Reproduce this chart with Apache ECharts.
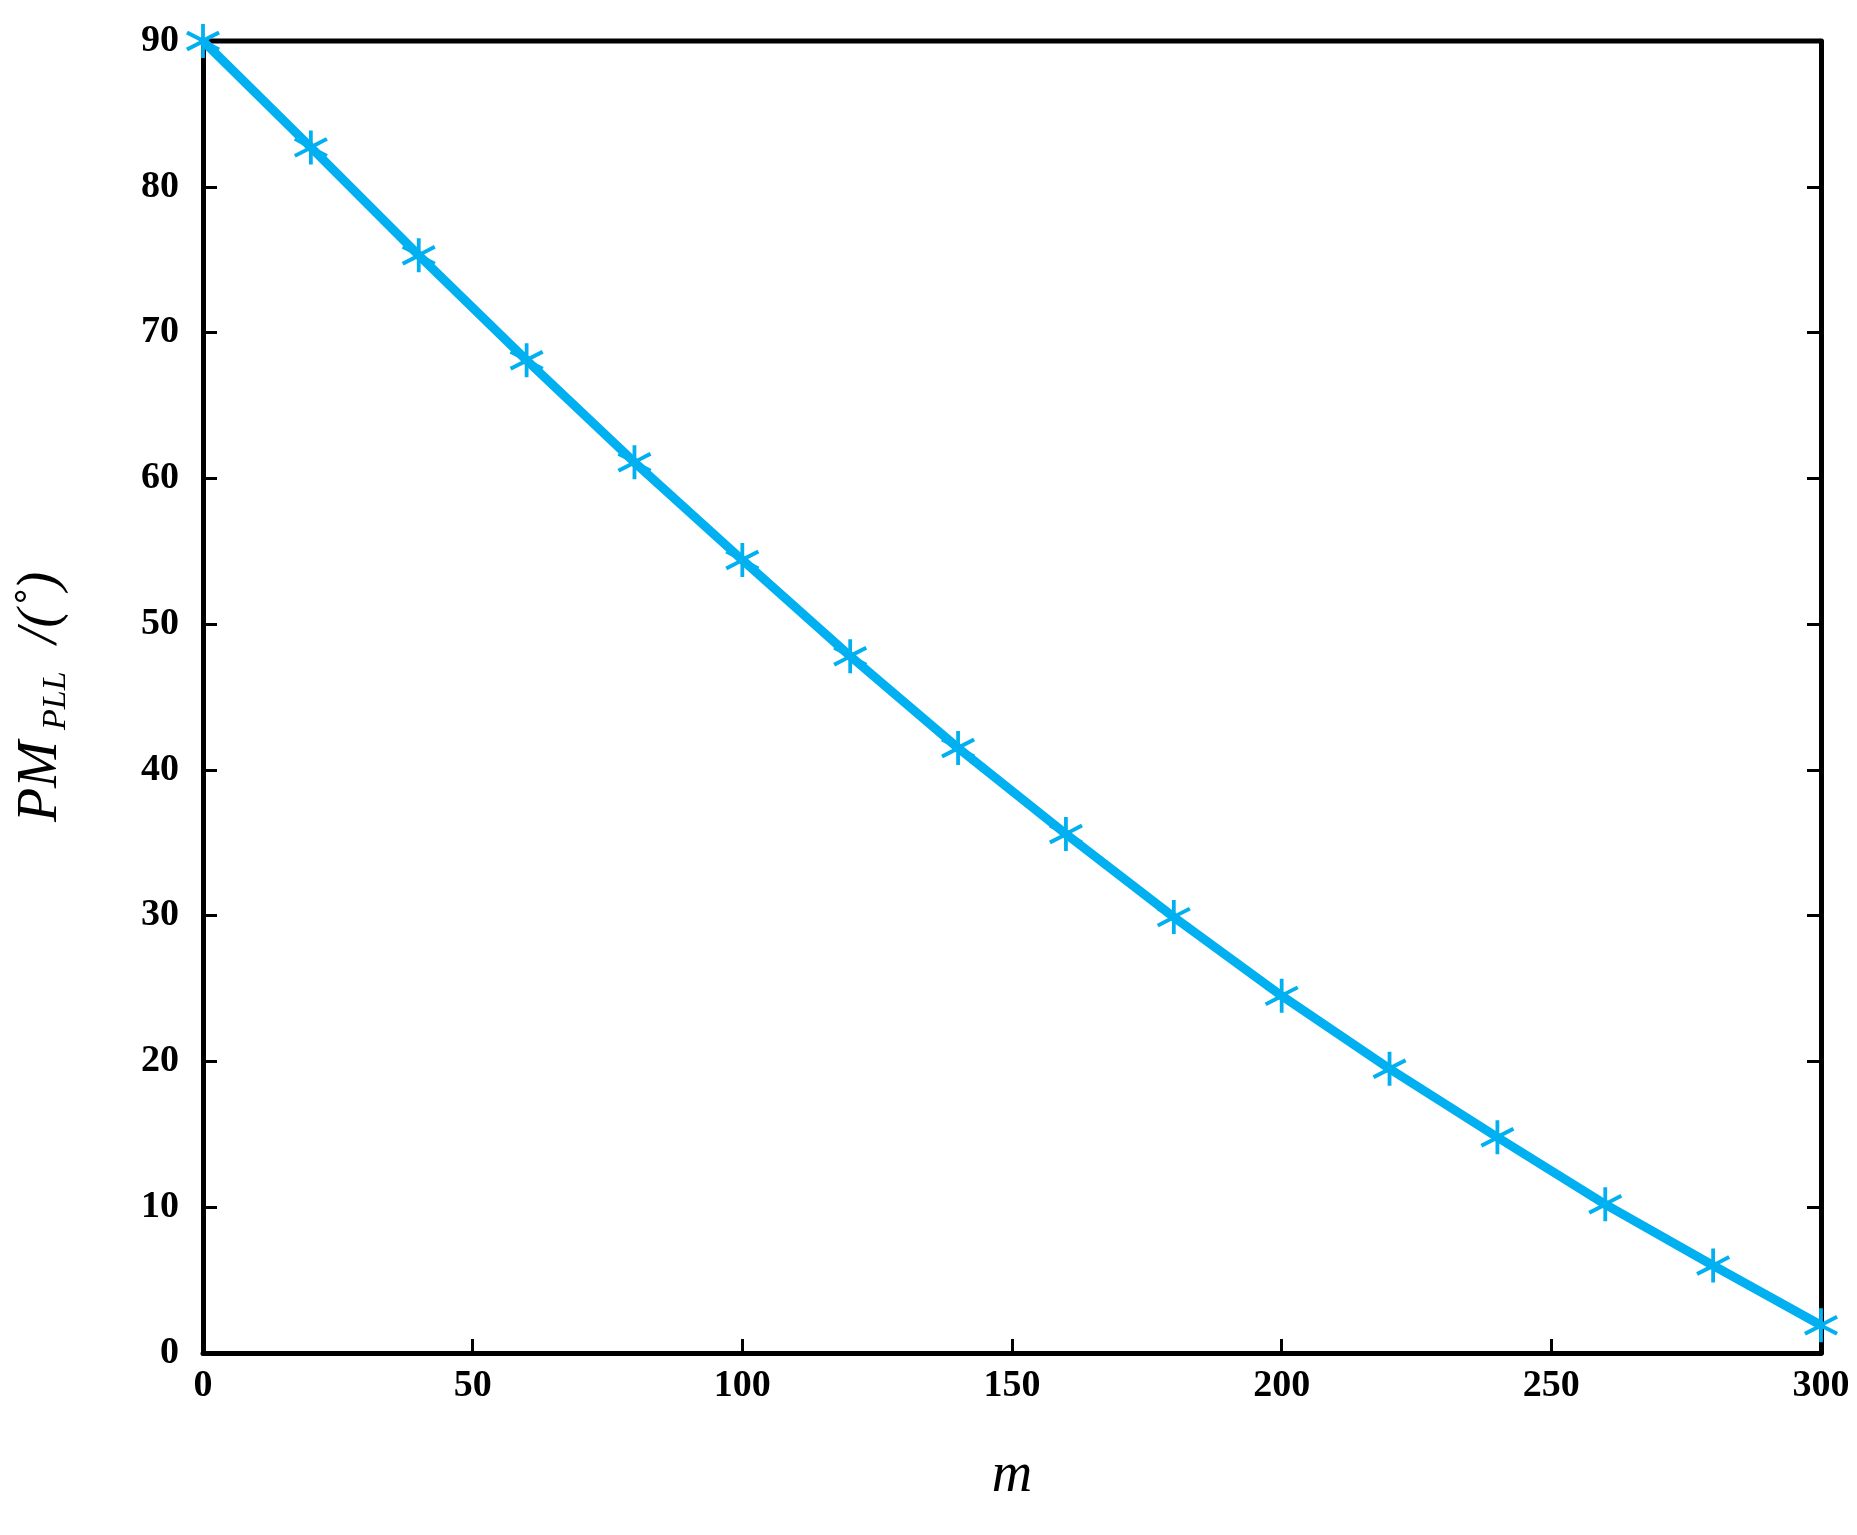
<!DOCTYPE html>
<html>
<head>
<meta charset="utf-8">
<script src="https://cdn.jsdelivr.net/npm/echarts@6/dist/echarts.min.js"></script>
<style>html,body{margin:0;padding:0;background:#fff}#main{width:1857px;height:1535px}</style>
</head>
<body>
<div id="main"></div>
<script>
var mValues = [0, 20, 40, 60, 80, 100, 120, 140, 160, 180, 200, 220, 240, 260, 280, 300];
var pmValues = [90, 82.7, 75.3, 68.1, 61.1, 54.4, 47.8, 41.5, 35.6, 29.9, 24.5, 19.5, 14.8, 10.2, 6.0, 1.9];

var chart = echarts.init(document.getElementById('main'));
var font = 'Liberation Serif';
var star = 'path://M-1,-10 L1,-10 L1,-2 L8,-6 L9,-4 L2,0 L9,4 L8,6 L1,2 L1,10 L-1,10 L-1,2 L-8,6 L-9,4 L-2,0 L-9,-4 L-8,-6 L-1,-2 Z';

var option = {
  animation: false,
  grid: { left: 203, right: 36, top: 41, bottom: 182, containLabel: false },
  xAxis: {
    type: 'value', min: 0, max: 300, interval: 50,
    name: 'm', nameLocation: 'middle', nameGap: 95,
    nameTextStyle: { fontFamily: font, fontStyle: 'italic', fontSize: 56, color: '#000' },
    axisLine: { onZero: false, lineStyle: { color: '#000', width: 5 } },
    axisTick: { inside: true, length: 14, lineStyle: { color: '#000', width: 3 } },
    axisLabel: { fontFamily: font, fontWeight: 'bold', fontSize: 38, color: '#000', margin: 14 },
    splitLine: { show: false }
  },
  yAxis: [{
    type: 'value', min: 0, max: 90, interval: 10,
    name: 'PM\u2009{sub|PLL}  /(\u02da)', nameLocation: 'middle', nameGap: 130,
    nameTextStyle: {
      fontFamily: font, fontStyle: 'italic', fontSize: 56, color: '#000',
      rich: { sub: { fontFamily: font, fontStyle: 'italic', fontSize: 34, verticalAlign: 'bottom', padding: [30, 0, 0, 0] } }
    },
    axisLine: { lineStyle: { color: '#000', width: 5 } },
    axisTick: { inside: true, length: 14, lineStyle: { color: '#000', width: 3 } },
    axisLabel: { fontFamily: font, fontWeight: 'bold', fontSize: 38, color: '#000', margin: 24 },
    splitLine: { show: false }
  }, {
    type: 'value', min: 0, max: 90, interval: 10, position: 'right',
    axisLine: { show: true, lineStyle: { color: '#000', width: 5 } },
    axisTick: { show: true, inside: true, length: 14, lineStyle: { color: '#000', width: 3 } },
    axisLabel: { show: false }, splitLine: { show: false }
  }],
  graphic: [{
    type: 'line', shape: { x1: 203, y1: 41, x2: 1821, y2: 41 },
    style: { stroke: '#000', lineWidth: 5 }
  }],
  series: [{
    type: 'line',
    data: mValues.map(function (m, i) { return [m, pmValues[i]]; }),
    lineStyle: { color: '#00b0f0', width: 9 },
    itemStyle: { color: '#00b0f0' },
    symbol: star, symbolSize: 34, showSymbol: true
  }]
};
chart.setOption(option);
</script>
</body>
</html>
